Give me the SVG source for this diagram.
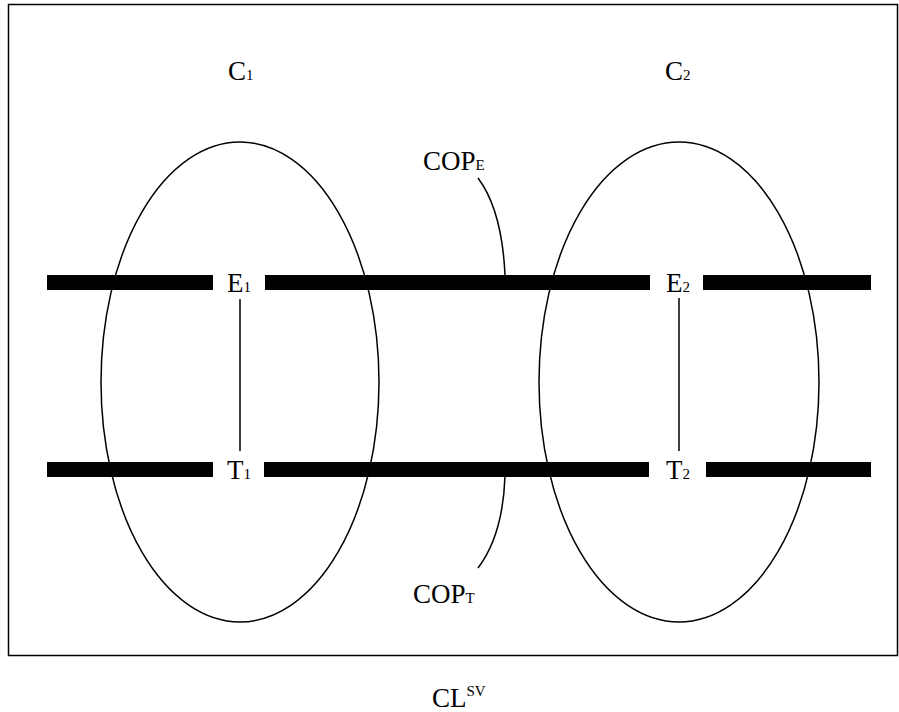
<svg xmlns="http://www.w3.org/2000/svg" width="899" height="712" viewBox="0 0 899 712">
<style>
.t{font-family:"Liberation Serif","Times New Roman",serif;font-size:27px;fill:#000}
.s{font-size:15px}
.bar{fill:#000}
.ln{fill:none;stroke:#000;stroke-width:1.5}
</style>
<rect x="0" y="0" width="899" height="712" fill="#fff"/>
<rect x="8.5" y="4.5" width="889" height="651" fill="none" stroke="#000" stroke-width="1.5"/>
<g id="connectors">
<line class="ln" x1="240" y1="299" x2="240" y2="451" stroke-width="1"/>
<line class="ln" x1="679" y1="298" x2="679" y2="451" stroke-width="1"/>
<path class="ln" d="M478,178 Q502,210 505,275"/>
<path class="ln" d="M505,476 Q503,535 478,568"/>
</g>
<g id="C1">
<ellipse class="ln" cx="240" cy="382" rx="139" ry="240"/>
<text class="t" x="228" y="80">C<tspan class="s">1</tspan></text>
</g>
<g id="C2">
<ellipse class="ln" cx="679" cy="382" rx="140" ry="240"/>
<text class="t" x="665" y="80">C<tspan class="s">2</tspan></text>
</g>
<g id="E-bar">
<rect class="bar" x="47" y="275" width="166" height="15"/>
<rect class="bar" x="265" y="275" width="385" height="15"/>
<rect class="bar" x="703" y="275" width="168" height="15"/>
</g>
<g id="T-bar">
<rect class="bar" x="47" y="462" width="166" height="15"/>
<rect class="bar" x="264" y="462" width="385" height="15"/>
<rect class="bar" x="706" y="462" width="165" height="15"/>
</g>
<g id="E1"><text class="t" x="227" y="292">E<tspan class="s">1</tspan></text></g>
<g id="T1"><text class="t" x="227" y="479">T<tspan class="s">1</tspan></text></g>
<g id="E2"><text class="t" x="666" y="292">E<tspan class="s">2</tspan></text></g>
<g id="T2"><text class="t" x="666" y="479">T<tspan class="s">2</tspan></text></g>
<g id="COPE"><text class="t" x="423" y="170">COP<tspan class="s">E</tspan></text></g>
<g id="COPT"><text class="t" x="413" y="603">COP<tspan class="s">T</tspan></text></g>
<g id="CLSV"><text class="t" x="432" y="707">CL<tspan class="s" dy="-11">SV</tspan></text></g>
</svg>
